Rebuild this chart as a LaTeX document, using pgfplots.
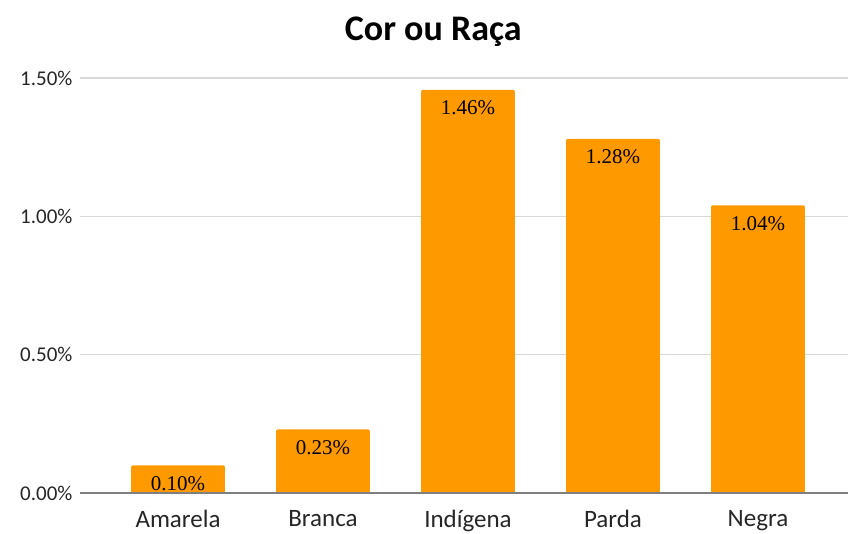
\documentclass[border=0pt]{standalone}
\usepackage{pgfplots}
\pgfplotsset{compat=1.18}
\usepackage{fontspec}
\setmainfont{Carlito}
\newfontfamily\barfont{Liberation Serif}
\definecolor{barorange}{HTML}{FF9900}
\definecolor{gridgray}{HTML}{D9D9D9}
\definecolor{basegray}{HTML}{7F7F7F}
\definecolor{txtgray}{HTML}{262626}
\begin{document}
\begin{tikzpicture}[x=1pt,y=1pt]
\path[use as bounding box] (-80,-40) rectangle (768,493);
\begin{axis}[
  at={(0,0)}, anchor=south west,
  scale only axis,
  width=768pt, height=415pt,
  xmin=-0.676, xmax=4.621,
  ymin=0, ymax=1.5,
  axis line style={draw=none},
  ytick={0,0.5,1,1.5},
  yticklabels={0.00\%,0.50\%,1.00\%,1.50\%},
  xtick={0,1,2,3,4},
  xticklabels={Amarela,Branca,Indígena,Parda,Negra},
  major tick length=0pt,
  ymajorgrids,
  grid style={gridgray, line width=1.2pt},
  yticklabel style={font=\fontsize{21}{21}\selectfont, text=txtgray, xshift=-4pt},
  xticklabel style={font=\fontsize{25}{25}\selectfont, text=txtgray, yshift=-14pt},
  title={\textbf{Cor ou Raça}},
  title style={font=\fontsize{36}{36}\selectfont, at={(0.46,1.077)}, anchor=base},
  clip=false,
]
\addplot[ybar, bar width=0.648, fill=barorange, draw=none, rounded corners=2pt,
  nodes near coords,
  point meta=explicit symbolic,
  nodes near coords style={font=\barfont\fontsize{21}{21}\selectfont, text=black, anchor=base, yshift=-25pt},
] table[meta=lab] {
x y lab
0 0.10 0.10\%
1 0.23 0.23\%
2 1.457 1.46\%
3 1.28 1.28\%
4 1.04 1.04\%
};
\draw[basegray, line width=2pt] (axis cs:-0.676,0) -- (axis cs:4.621,0);
\end{axis}
\end{tikzpicture}
\end{document}
